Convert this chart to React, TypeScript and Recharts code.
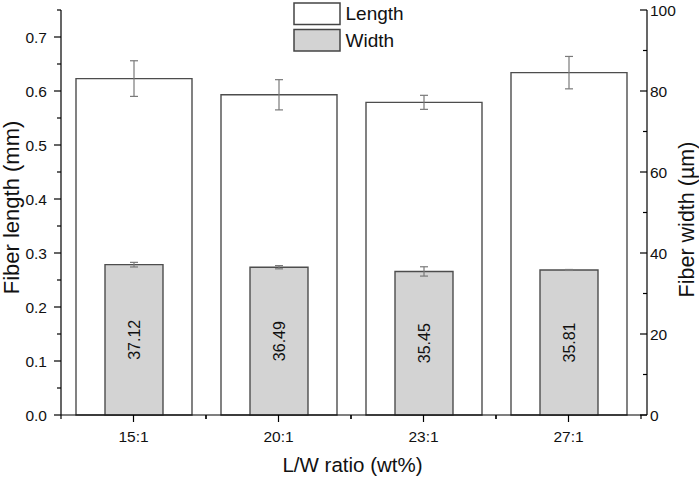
import React from 'react';
import {
  ComposedChart,
  Bar,
  XAxis,
  YAxis,
  ErrorBar,
  LabelList,
  Legend,
  Label,
} from 'recharts';

const categories = ['15:1', '20:1', '23:1', '27:1'];
const lengthMean = [0.623, 0.593, 0.579, 0.634];
const lengthErr = [0.033, 0.028, 0.013, 0.03];
const widthMean = [37.12, 36.49, 35.45, 35.81];
const widthErr = [0.57, 0.4, 1.15, 0.12];

const leftTicks = [0, 0.05, 0.1, 0.15, 0.2, 0.25, 0.3, 0.35, 0.4, 0.45, 0.5, 0.55, 0.6, 0.65, 0.7, 0.75];
const rightTicks = [0, 10, 20, 30, 40, 50, 60, 70, 80, 90, 100];

const FONT = "Arial, 'Liberation Sans', sans-serif";
const TEXT = '#111';
const BAR_STROKE = '#4d4d4d';
const ERR_STROKE = '#7a7a7a';
const LENGTH_FILL = '#ffffff';
const WIDTH_FILL = '#d3d3d3';

const data = categories.map((c, i) => ({
  cat: c,
  length: lengthMean[i],
  lengthErr: lengthErr[i],
  width: widthMean[i],
  widthErr: widthErr[i],
}));

const fillByName: Record<string, string> = { Length: LENGTH_FILL, Width: WIDTH_FILL };

const LeftTick = (props: any) => {
  const { x, y, payload } = props;
  const v = payload.value as number;
  const major = Math.abs(v * 10 - Math.round(v * 10)) < 1e-6;
  return (
    <g>
      <line x1={x} x2={x - (major ? 7 : 4)} y1={y} y2={y} stroke="#000" strokeWidth={1.2} />
      {major && (
        <text x={x - 14} y={y} textAnchor="end" dominantBaseline="central" fontSize={15.5} fontFamily={FONT} fill={TEXT}>
          {v.toFixed(1)}
        </text>
      )}
    </g>
  );
};

const RightTick = (props: any) => {
  const { x, y, payload } = props;
  const v = payload.value as number;
  const major = v % 20 === 0;
  return (
    <g>
      <line x1={x} x2={x - (major ? 7 : 4)} y1={y} y2={y} stroke="#000" strokeWidth={1.2} />
      {major && (
        <text x={x + 3} y={y} textAnchor="start" dominantBaseline="central" fontSize={15.5} fontFamily={FONT} fill={TEXT}>
          {v}
        </text>
      )}
    </g>
  );
};

const BottomTick = (props: any) => {
  const { x, y, payload } = props;
  const off = payload && typeof payload.offset === 'number' && payload.offset > 0 ? payload.offset : 72.5;
  return (
    <g>
      <line x1={x} x2={x} y1={y} y2={y + 7} stroke="#000" strokeWidth={1.2} />
      <line x1={x - off} x2={x - off} y1={y} y2={y + 4} stroke="#000" strokeWidth={1.2} />
      <line x1={x + off} x2={x + off} y1={y} y2={y + 4} stroke="#000" strokeWidth={1.2} />
      <text x={x} y={y + 27} textAnchor="middle" fontSize={15.5} fontFamily={FONT} fill={TEXT}>
        {payload.value}
      </text>
    </g>
  );
};

const LeftTitle = (props: any) => {
  const vb = props.viewBox || { x: 0, y: 10, width: 61, height: 405 };
  const cx = vb.x + 11;
  const cy = vb.y + vb.height / 2 - 5;
  return (
    <text x={cx} y={cy} transform={`rotate(-90, ${cx}, ${cy})`} textAnchor="middle" dominantBaseline="central" fontSize={22} fontFamily={FONT} fill={TEXT}>
      Fiber length (mm)
    </text>
  );
};

const RightTitle = (props: any) => {
  const vb = props.viewBox || { x: 647, y: 10, width: 52, height: 405 };
  const cx = vb.x + 39.5;
  const cy = vb.y + vb.height / 2 + 7;
  return (
    <text x={cx} y={cy} transform={`rotate(-90, ${cx}, ${cy})`} textAnchor="middle" dominantBaseline="central" fontSize={21.5} fontFamily={FONT} fill={TEXT}>
      Fiber width (µm)
    </text>
  );
};

const BottomTitle = (props: any) => {
  const vb = props.viewBox || { x: 61, y: 415, width: 586, height: 64 };
  return (
    <text x={vb.x + vb.width / 2 - 1.5} y={vb.y + 56.5} textAnchor="middle" fontSize={20.5} fontFamily={FONT} fill={TEXT}>
      L/W ratio (wt%)
    </text>
  );
};

const LegendContent = (props: any) => {
  const payload = (props.payload || []) as any[];
  return (
    <svg width={140} height={56} style={{ display: 'block' }}>
      {payload.map((p, i) => (
        <g key={String(p.value)}>
          <rect
            x={4}
            y={3 + i * 26.5}
            width={46}
            height={21.5}
            fill={fillByName[p.value] ?? p.color}
            stroke="#444"
            strokeWidth={1.5}
          />
          <text x={55.5} y={20 + i * 26.5} fontSize={19} fontFamily={FONT} fill={TEXT}>
            {p.value}
          </text>
        </g>
      ))}
    </svg>
  );
};

export default function App() {
  return (
    <div style={{ position: 'absolute', left: 0, top: 0, width: 699, height: 479, background: '#fff' }}>
      <ComposedChart width={699} height={479} data={data} margin={{ top: 10, right: 0, bottom: 0, left: 0 }}>
        <XAxis
          xAxisId="a"
          dataKey="cat"
          height={64}
          padding={{ left: 0, right: 6 }}
          tickSize={0}
          tickMargin={0}
          tickLine={false}
          axisLine={{ stroke: '#000', strokeWidth: 1.2 }}
          tick={<BottomTick />}
          interval={0}
        >
          <Label content={<BottomTitle />} />
        </XAxis>
        <XAxis xAxisId="b" dataKey="cat" hide padding={{ left: 0, right: 6 }} />
        <YAxis
          yAxisId="left"
          orientation="left"
          width={61}
          type="number"
          domain={[0, 0.75]}
          ticks={leftTicks}
          interval={0}
          tickSize={0}
          tickMargin={0}
          tickLine={false}
          axisLine={{ stroke: '#000', strokeWidth: 1.2 }}
          tick={<LeftTick />}
        >
          <Label content={<LeftTitle />} />
        </YAxis>
        <YAxis
          yAxisId="right"
          orientation="right"
          width={52}
          type="number"
          domain={[0, 100]}
          ticks={rightTicks}
          interval={0}
          tickSize={0}
          tickMargin={0}
          tickLine={false}
          axisLine={{ stroke: '#000', strokeWidth: 1.2 }}
          tick={<RightTick />}
        >
          <Label content={<RightTitle />} />
        </YAxis>
        <Legend
          layout="vertical"
          align="center"
          verticalAlign="middle"
          wrapperStyle={{ position: 'absolute', left: 290, top: 0, width: 140, height: 56 }}
          content={<LegendContent />}
        />
        <Bar
          name="Length"
          dataKey="length"
          xAxisId="a"
          yAxisId="left"
          barSize={116}
          fill={LENGTH_FILL}
          stroke={BAR_STROKE}
          strokeWidth={1.4}
          isAnimationActive={false}
        >
          <ErrorBar dataKey="lengthErr" direction="y" width={4} stroke={ERR_STROKE} strokeWidth={1.2} />
        </Bar>
        <Bar
          name="Width"
          dataKey="width"
          xAxisId="b"
          yAxisId="right"
          barSize={58}
          fill={WIDTH_FILL}
          stroke={BAR_STROKE}
          strokeWidth={1.4}
          isAnimationActive={false}
        >
          <ErrorBar dataKey="widthErr" direction="y" width={4} stroke={ERR_STROKE} strokeWidth={1.2} />
          <LabelList
            dataKey="width"
            position="center"
            angle={-90}
            fill={TEXT}
            fontSize={16}
            fontFamily={FONT}
            formatter={(v: any) => Number(v).toFixed(2)}
          />
        </Bar>
      </ComposedChart>
    </div>
  );
}
